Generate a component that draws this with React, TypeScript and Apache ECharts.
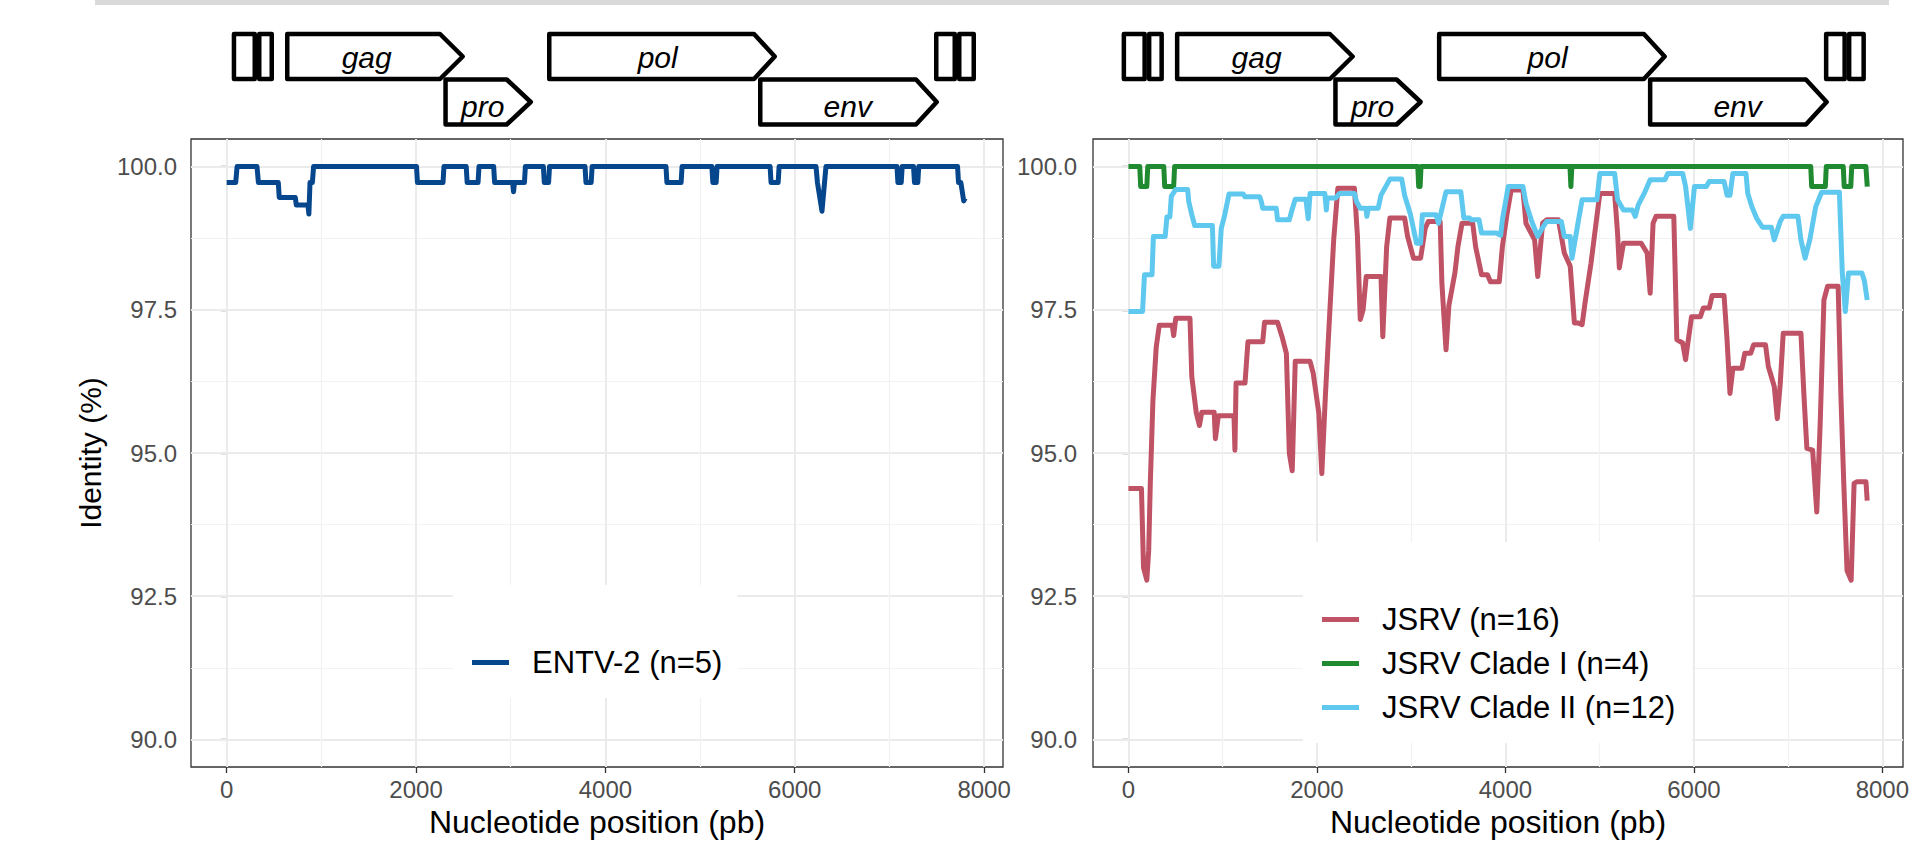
import React, { useEffect, useRef } from "react";
import * as echarts from "echarts";

// ---------------- data ----------------
const xTicks = [0, 2000, 4000, 6000, 8000];
const xMinor = [1000, 3000, 5000, 7000];
const yTicks = [90, 92.5, 95, 97.5, 100];
const yMinor = [91.25, 93.75, 96.25, 98.75];

const seriesNames = ["ENTV-2 (n=5)", "JSRV (n=16)", "JSRV Clade I (n=4)", "JSRV Clade II (n=12)"];
const seriesColors = ["#06468c", "#bf5264", "#1f8a2f", "#5ec8ee"];

const entv2: [number, number][] = [
  [0, 99.72], [95, 99.72], [110, 100], [320, 100], [335, 99.72], [545, 99.72], [555, 99.46],
  [725, 99.46], [735, 99.33], [858, 99.33], [868, 99.17], [880, 99.72], [905, 99.72], [918, 100],
  [2005, 100], [2015, 99.72], [2285, 99.72], [2295, 100], [2530, 100], [2540, 99.72],
  [2655, 99.72], [2665, 100], [2820, 100], [2830, 99.72], [3020, 99.72], [3030, 99.56],
  [3040, 99.72], [3145, 99.72], [3155, 100], [3345, 100], [3355, 99.72], [3400, 99.72],
  [3410, 100], [3785, 100], [3795, 99.72], [3850, 99.72], [3860, 100], [4640, 100],
  [4650, 99.72], [4800, 99.72], [4810, 100], [5125, 100], [5135, 99.72], [5170, 99.72],
  [5180, 100], [5740, 100], [5750, 99.72], [5825, 99.72], [5835, 100], [6225, 100],
  [6240, 99.72], [6288, 99.22], [6330, 100], [7080, 100], [7090, 99.72], [7125, 99.72],
  [7135, 100], [7255, 100], [7265, 99.72], [7300, 99.72], [7310, 100], [7720, 100],
  [7730, 99.72], [7755, 99.72], [7785, 99.4], [7800, 99.45],
];

const jsrv: [number, number][] = [
  [0, 94.38], [138, 94.38], [160, 93.0], [195, 92.78], [215, 93.3], [232, 94.47], [260, 95.92],
  [295, 96.85], [327, 97.23], [465, 97.23], [480, 97.05], [502, 97.35], [653, 97.35],
  [672, 96.34], [720, 95.7], [753, 95.48], [778, 95.71], [910, 95.71], [923, 95.25],
  [954, 95.65], [1120, 95.65], [1130, 95.05], [1142, 96.22], [1237, 96.22], [1268, 96.94],
  [1425, 96.94], [1444, 97.28], [1582, 97.28], [1630, 97.03], [1676, 96.74], [1707, 95.0],
  [1738, 94.69], [1770, 96.6], [1927, 96.6], [1960, 96.4], [2020, 95.7], [2052, 94.64],
  [2090, 96.0], [2134, 97.38], [2178, 98.72], [2222, 99.62], [2398, 99.62], [2430, 98.78],
  [2460, 97.33], [2490, 97.5], [2523, 98.08], [2680, 98.08], [2699, 97.03], [2740, 98.6],
  [2774, 99.1], [2931, 99.1], [2962, 98.78], [3025, 98.4], [3100, 98.4], [3150, 98.93],
  [3182, 99.04], [3308, 99.04], [3326, 97.97], [3370, 96.8], [3400, 97.57], [3465, 98.15],
  [3496, 98.6], [3540, 99.01], [3653, 99.01], [3684, 98.6], [3747, 98.11], [3810, 98.11],
  [3841, 97.99], [3935, 97.99], [3968, 98.6], [4018, 99.18], [4061, 99.59], [4186, 99.59],
  [4218, 99.01], [4310, 98.72], [4343, 98.08], [4395, 99.01], [4437, 99.07], [4563, 99.07],
  [4625, 98.49], [4688, 98.26], [4732, 97.27], [4770, 97.27], [4814, 97.24], [4845, 97.62],
  [4908, 98.31], [4971, 99.13], [5002, 99.53], [5159, 99.53], [5190, 98.84], [5209, 98.23],
  [5253, 98.66], [5441, 98.66], [5504, 98.49], [5536, 97.79], [5567, 99.01], [5599, 99.13],
  [5787, 99.13], [5819, 96.98], [5881, 96.92], [5912, 96.63], [5975, 97.38], [6069, 97.38],
  [6100, 97.53], [6163, 97.53], [6194, 97.75], [6320, 97.75], [6352, 96.98], [6383, 96.04],
  [6414, 96.48], [6509, 96.48], [6540, 96.74], [6603, 96.74], [6634, 96.89], [6760, 96.89],
  [6790, 96.51], [6853, 96.16], [6885, 95.6], [6916, 96.2], [6948, 97.09], [7136, 97.09],
  [7168, 96.0], [7199, 95.08], [7260, 95.05], [7304, 93.97], [7340, 95.5], [7380, 97.67],
  [7419, 97.91], [7531, 97.91], [7560, 96.0], [7590, 94.5], [7625, 92.95], [7669, 92.78],
  [7700, 94.47], [7732, 94.5], [7826, 94.5], [7839, 94.17],
];

const jsrvClade1: [number, number][] = [
  [0, 100], [120, 100], [130, 99.65], [195, 99.65], [205, 100], [375, 100], [385, 99.65],
  [480, 99.65], [490, 100], [3070, 100], [3080, 99.65], [3095, 99.65], [3105, 100],
  [4685, 100], [4695, 99.65], [4705, 100], [7240, 100], [7250, 99.65], [7395, 99.65],
  [7405, 100], [7585, 100], [7595, 99.65], [7665, 99.65], [7675, 100], [7825, 100],
  [7840, 99.65],
];

const jsrvClade2: [number, number][] = [
  [0, 97.47], [150, 97.47], [170, 98.11], [250, 98.11], [265, 98.78], [390, 98.78],
  [408, 99.12], [440, 99.12], [455, 99.48], [502, 99.6], [628, 99.6], [640, 99.39],
  [672, 99.16], [703, 98.97], [891, 98.97], [904, 98.26], [960, 98.26], [985, 98.92],
  [1017, 99.12], [1067, 99.52], [1218, 99.52], [1237, 99.47], [1393, 99.47], [1410, 99.39],
  [1425, 99.27], [1569, 99.27], [1582, 99.07], [1707, 99.07], [1730, 99.21], [1770, 99.43],
  [1883, 99.43], [1908, 99.09], [1927, 99.53], [2084, 99.53], [2100, 99.24], [2110, 99.45],
  [2200, 99.45], [2240, 99.53], [2398, 99.53], [2420, 99.39], [2460, 99.27], [2520, 99.27],
  [2530, 99.13], [2545, 99.27], [2650, 99.27], [2680, 99.5], [2774, 99.78], [2900, 99.78],
  [2930, 99.5], [2990, 99.18], [3057, 98.66], [3100, 98.66], [3119, 99.16], [3264, 99.16],
  [3290, 99.01], [3370, 99.56], [3527, 99.56], [3559, 99.1], [3620, 99.1], [3640, 99.07],
  [3720, 99.07], [3747, 98.84], [3904, 98.84], [3950, 98.8], [3968, 99.07], [4030, 99.65],
  [4186, 99.65], [4218, 99.36], [4280, 99.04], [4343, 98.78], [4390, 98.92], [4437, 99.04],
  [4594, 99.04], [4625, 98.78], [4688, 98.78], [4707, 98.4], [4770, 99.01], [4814, 99.42],
  [4971, 99.42], [5002, 99.88], [5159, 99.88], [5190, 99.42], [5253, 99.24], [5347, 99.24],
  [5378, 99.13], [5410, 99.33], [5473, 99.53], [5536, 99.77], [5693, 99.77], [5724, 99.88],
  [5881, 99.88], [5912, 99.65], [5963, 98.92], [6006, 99.65], [6132, 99.65], [6163, 99.74],
  [6320, 99.74], [6352, 99.5], [6383, 99.5], [6414, 99.88], [6553, 99.88], [6572, 99.53],
  [6615, 99.3], [6665, 99.1], [6728, 98.94], [6822, 98.94], [6853, 98.72], [6916, 99.04],
  [6948, 99.13], [7104, 99.13], [7136, 98.72], [7180, 98.4], [7230, 98.72], [7293, 99.3],
  [7356, 99.55], [7544, 99.55], [7575, 98.14], [7607, 97.47], [7640, 98.14], [7783, 98.14],
  [7810, 98.0], [7839, 97.67],
];

// genome map features (names and rows); layout handled below
const geneNames = ["gag", "pro", "pol", "env"];
const geneRows = [0, 1, 0, 1];

// ---------------- layout / style ----------------
const FONT = "'Liberation Sans', Arial, Helvetica, sans-serif";
const GRID_TOP = 139;
const GRID_H = 628;
const PANELS = [
  { left: 191, width: 812, xMin: -377, xMax: 8200, mapX: 231.7 },
  { left: 1093, width: 810, xMin: -376, xMax: 8219, mapX: 1121.6 },
];
// gene-arrow geometry, px offsets from the map origin: [start, rectEnd, tip]
const geneGeom = [
  [53.3, 208.3, 233.3],
  [211.6, 275, 301.3],
  [315.3, 522.3, 545.3],
  [526.3, 684.3, 707.3],
];
const geneTextX = [135, 251, 426, 616];
const ltrBoxes = [
  [0, 25.3], [25.3, 42.3], [702.3, 725.3], [725.3, 744.3],
];
const ROWS = [
  { y0: 34, y1: 79, ty: 57 },
  { y0: 79.5, y1: 124.5, ty: 106 },
];
const SW = 4.5;
const LINE_W = 5;

function genomeMap(ox: number) {
  const els: any[] = [];
  const h = SW / 2;
  ltrBoxes.forEach(([a, b]) => {
    els.push({
      type: "rect",
      shape: { x: ox + a + h, y: ROWS[0].y0, width: b - a - SW, height: ROWS[0].y1 - ROWS[0].y0 },
      style: { fill: "#fff", stroke: "#000", lineWidth: SW, lineJoin: "round" },
    });
  });
  geneNames.forEach((name, i) => {
    const r = ROWS[geneRows[i]];
    const [s, e, t] = geneGeom[i];
    const ym = (r.y0 + r.y1) / 2;
    els.push({
      type: "polygon",
      shape: {
        points: [
          [ox + s + h, r.y0], [ox + e, r.y0], [ox + t - h, ym], [ox + e, r.y1], [ox + s + h, r.y1],
        ],
      },
      style: { fill: "#fff", stroke: "#000", lineWidth: SW, lineJoin: "round" },
    });
    els.push({
      type: "text",
      x: ox + geneTextX[i],
      y: r.ty,
      style: {
        text: name,
        font: `italic 30px ${FONT}`,
        fill: "#000",
        align: "center",
        verticalAlign: "middle",
        textAlign: "center",
        textVerticalAlign: "middle",
      },
    });
  });
  return els;
}

const gridLineData = [
  ...yTicks.map((v) => ({ yAxis: v, lineStyle: { color: "#ebebeb", width: 2, type: "solid" } })),
  ...yMinor.map((v) => ({ yAxis: v, lineStyle: { color: "#f2f2f2", width: 1.2, type: "solid" } })),
  ...xTicks.map((v) => ({ xAxis: v, lineStyle: { color: "#ebebeb", width: 2, type: "solid" } })),
  ...xMinor.map((v) => ({ xAxis: v, lineStyle: { color: "#f2f2f2", width: 1.2, type: "solid" } })),
];

const gridMarkLine = {
  silent: true,
  symbol: ["none", "none"],
  z: 1,
  label: { show: false },
  emphasis: { disabled: true },
  animation: false,
  data: gridLineData,
};

const LEGEND_ICON = "path://M0,0H37V5H0Z M54.98,0H55V5H54.98Z";

export default function App() {
  const ref = useRef<HTMLDivElement>(null);
  useEffect(() => {
    if (!ref.current) return;
    const chart = echarts.init(ref.current, undefined, { renderer: "svg" });
    const xAxes = PANELS.map((p, i) => ({
      gridIndex: i,
      type: "value",
      min: p.xMin,
      max: p.xMax,
      splitLine: { show: false },
      axisLine: { show: false },
      axisTick: { show: true, customValues: xTicks, length: 6, lineStyle: { color: "#333", width: 1.3 } },
      axisLabel: {
        customValues: xTicks,
        fontSize: 24,
        color: "#4d4d4d",
        margin: 10,
        fontFamily: FONT,
        formatter: (v: number) => String(Math.round(Number(v))),
      },
      name: "Nucleotide position (pb)",
      nameLocation: "middle",
      nameGap: 37,
      nameTextStyle: { fontSize: 32, color: "#000", fontFamily: FONT },
    }));
    const yAxes = PANELS.map((p, i) => ({
      gridIndex: i,
      type: "value",
      min: 89.52,
      max: 100.48,
      splitLine: { show: false },
      axisLine: { show: false },
      axisTick: { show: true, customValues: yTicks, length: 6, lineStyle: { color: "#333", width: 1.3 } },
      axisLabel: {
        customValues: yTicks,
        fontSize: 24,
        color: "#4d4d4d",
        margin: i === 0 ? 14 : 16,
        fontFamily: FONT,
        formatter: (v: number) => Number(v).toFixed(1),
      },
      name: i === 0 ? "Identity (%)" : "",
      nameLocation: "middle",
      nameGap: 86,
      nameTextStyle: { fontSize: 30, color: "#000", fontFamily: FONT },
    }));
    const lineBase = { type: "line", showSymbol: false, symbol: "none", z: 3, clip: true };
    const legendBase = {
      orient: "vertical",
      backgroundColor: "#fff",
      icon: LEGEND_ICON,
      itemWidth: 55,
      itemHeight: 5,
      itemGap: 13,
      itemStyle: { borderWidth: 0 },
      selectedMode: false,
      textStyle: { fontSize: 31, color: "#000", fontFamily: FONT },
    };
    const option: any = {
      animation: false,
      backgroundColor: "#fff",
      textStyle: { fontFamily: FONT },
      grid: PANELS.map((p) => ({
        left: p.left,
        top: GRID_TOP,
        width: p.width,
        height: GRID_H,
        show: true,
        backgroundColor: "#fff",
        borderColor: "#333",
        borderWidth: 1.3,
      })),
      xAxis: xAxes,
      yAxis: yAxes,
      legend: [
        { ...legendBase, data: [seriesNames[0]], left: 453, top: 585, padding: [62, 15, 20, 19] },
        {
          ...legendBase,
          data: [seriesNames[1], seriesNames[2], seriesNames[3]],
          left: 1303,
          top: 542,
          padding: [62, 17, 20, 19],
        },
      ],
      series: [
        {
          ...lineBase, name: seriesNames[0], xAxisIndex: 0, yAxisIndex: 0, data: entv2,
          color: seriesColors[0], lineStyle: { width: LINE_W, color: seriesColors[0], join: "round" },
          markLine: gridMarkLine,
        },
        {
          ...lineBase, name: seriesNames[1], xAxisIndex: 1, yAxisIndex: 1, data: jsrv,
          color: seriesColors[1], lineStyle: { width: LINE_W, color: seriesColors[1], join: "round" },
          markLine: gridMarkLine,
        },
        {
          ...lineBase, name: seriesNames[2], xAxisIndex: 1, yAxisIndex: 1, data: jsrvClade1,
          color: seriesColors[2], lineStyle: { width: LINE_W, color: seriesColors[2], join: "round" },
        },
        {
          ...lineBase, name: seriesNames[3], xAxisIndex: 1, yAxisIndex: 1, data: jsrvClade2,
          color: seriesColors[3], lineStyle: { width: LINE_W, color: seriesColors[3], join: "round" },
        },
      ],
      graphic: [
        { type: "rect", shape: { x: 95, y: 0, width: 1794, height: 5 }, style: { fill: "#d9d9d9" } },
        ...genomeMap(PANELS[0].mapX),
        ...genomeMap(PANELS[1].mapX),
      ],
    };
    chart.setOption(option);
    return () => chart.dispose();
  }, []);
  return (
    <div
      ref={ref}
      style={{ position: "absolute", left: 0, top: 0, width: 1927, height: 843, background: "#fff" }}
    />
  );
}
